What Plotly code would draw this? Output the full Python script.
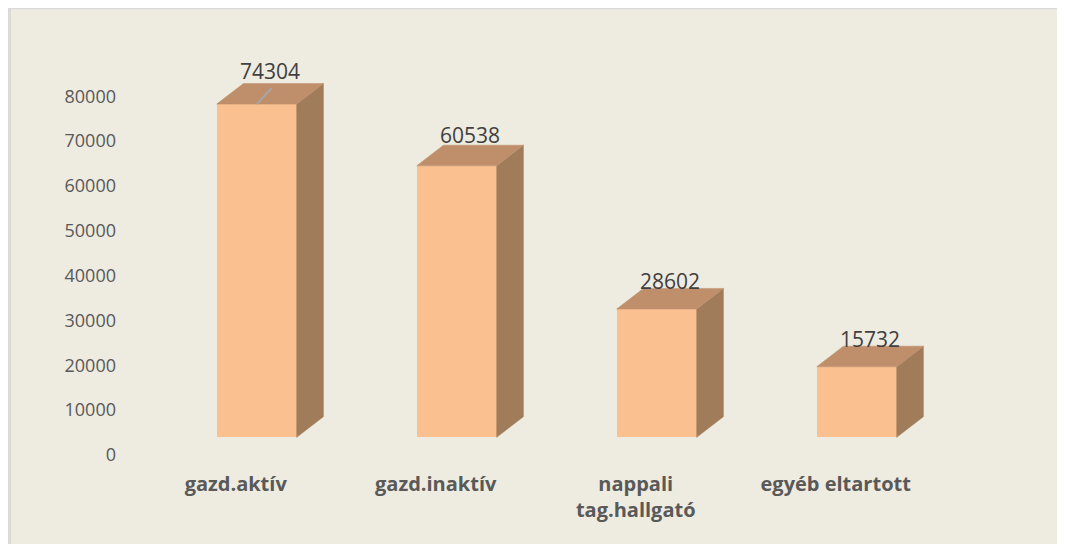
import plotly.graph_objects as go

categories = ["gazd.aktív", "gazd.inaktív", "nappali<br>tag.hallgató", "egyéb eltartott"]
values = [74304, 60538, 28602, 15732]
y_ticks = [0, 10000, 20000, 30000, 40000, 50000, 60000, 70000, 80000]

# style / geometry (screen pixels; page body adds an 8px offset)
FRONT = "#FAC090"
TOP = "#BF8F6B"
SIDE = "#A17C5B"
BG = "#EEEBE0"
OFF = 8
W, H = 1065, 544
PLOT_L, PLOT_R, PLOT_T, PLOT_B = 125, 1045, 40, 470  # screen coords
ML, MT = PLOT_L - OFF, PLOT_T - OFF
MR = W - (PLOT_R - OFF)
MB = H - (PLOT_B - OFF)
PW, PH = PLOT_R - PLOT_L, PLOT_B - PLOT_T
PX_PER_X = 200.0
UNITS_PER_PX = 223.0
BAR_W = 0.4
DX = 26.7 / PX_PER_X
DY = 20.6 * UNITS_PER_PX
LABEL_OFF = -21 / PX_PER_X
label_yshift = [-3, -6, -9, -9]

x0 = -(256.7 - PLOT_L) / PX_PER_X
x1 = x0 + PW / PX_PER_X
y_lo = -(PLOT_B - 455) * UNITS_PER_PX
y_hi = (455 - PLOT_T) * UNITS_PER_PX
y2_lo = -(PLOT_B - 437.3) * UNITS_PER_PX
y2_hi = (437.3 - PLOT_T) * UNITS_PER_PX

xs = list(range(len(values)))

fig = go.Figure()

# side faces
sx, sy = [], []
for i, v in zip(xs, values):
    r = i + BAR_W / 2
    sx += [r, r + DX, r + DX, r, r, None]
    sy += [0, DY, v + DY, v, 0, None]
fig.add_trace(go.Scatter(x=sx, y=sy, yaxis="y2", mode="lines", fill="toself",
                         fillcolor=SIDE, line=dict(width=0.5, color=SIDE),
                         hoverinfo="skip", showlegend=False))
# top faces
tx, ty = [], []
for i, v in zip(xs, values):
    l, r = i - BAR_W / 2, i + BAR_W / 2
    tx += [l, r, r + DX, l + DX, l, None]
    ty += [v, v, v + DY, v + DY, v, None]
fig.add_trace(go.Scatter(x=tx, y=ty, yaxis="y2", mode="lines", fill="toself",
                         fillcolor=TOP, line=dict(width=0.5, color=TOP),
                         hoverinfo="skip", showlegend=False))
# front faces
fig.add_trace(go.Bar(x=xs, y=values, yaxis="y2", width=BAR_W,
                     marker=dict(color=FRONT, line=dict(width=0)),
                     showlegend=False))
# leader line for first label
fig.add_trace(go.Scatter(x=[xs[0], xs[0] + 0.075], y=[values[0], values[0] + 3600],
                         yaxis="y2", mode="lines", line=dict(color="#A6A6A6", width=2),
                         hoverinfo="skip", showlegend=False))
# invisible trace to activate main y axis
fig.add_trace(go.Scatter(x=[x0], y=[0], mode="markers", marker=dict(opacity=0),
                         hoverinfo="skip", showlegend=False))

for i, v in zip(xs, values):
    fig.add_annotation(x=i + DX / 2, y=v + DY, xref="x", yref="y2", text=str(v),
                       showarrow=False, yanchor="bottom", yshift=label_yshift[i],
                       font=dict(family="Open Sans", size=21, color="#404040"))

# chart-area border (left and top edges visible)
fig.add_shape(type="line", xref="paper", yref="paper",
              x0=-(ML - 1.5) / PW, x1=-(ML - 1.5) / PW, y0=-MB / PH - 0.1, y1=1 + MT / PH,
              line=dict(color="#DCDAD4", width=3))
fig.add_shape(type="line", xref="paper", yref="paper",
              x0=-ML / PW, x1=1 + MR / PW + 0.1, y0=1 + (MT - 0.5) / PH, y1=1 + (MT - 0.5) / PH,
              line=dict(color="#D9D9D9", width=1.5))

fig.update_layout(
    width=W, height=H,
    margin=dict(l=ML, r=MR, t=MT, b=MB),
    paper_bgcolor=BG,
    plot_bgcolor=BG,
    bargap=0,
    xaxis=dict(range=[x0, x1], tickvals=[i + LABEL_OFF for i in xs], ticktext=categories,
               showgrid=False, zeroline=False, showline=False, ticks="",
               tickfont=dict(family="Open Sans", size=20, color="#595959", weight="bold"),
               fixedrange=True),
    yaxis=dict(range=[y_lo, y_hi], tickvals=y_ticks, tickformat="d", showgrid=False,
               zeroline=False, showline=False, ticks="", ticklabelstandoff=8,
               tickfont=dict(family="Open Sans", size=18, color="#595959")),
    yaxis2=dict(range=[y2_lo, y2_hi], overlaying="y", visible=False),
)

fig.write_html("out.html")
